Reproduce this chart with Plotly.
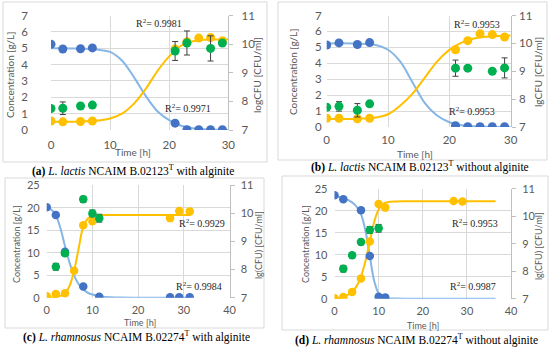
import plotly.graph_objects as go

W, H = 550, 352

# ---------------- DATA ----------------
# Panel (a) L. lactis with alginite
a_t = [0, 2, 5, 7, 21, 23, 25, 27, 29]
a_glc = [5.25, 4.95, 4.97, 5.02, 0.42, 0.02, 0.02, 0.02, 0.02]
a_lac = [0.55, 0.5, 0.52, 0.55, 4.95, 5.4, 5.62, 5.65, 5.45]
a_cfu_t = [0, 2, 5, 7, 21, 23, 27, 29]
a_cfu = [7.75, 7.76, 7.84, 7.87, 9.76, 10.04, 9.85, 10.04]
a_cfu_err = [0, 0.22, 0, 0, 0.33, 0.42, 0.44, 0.04]
a_fit_t = [0, 5, 8, 10, 12, 14, 16, 18, 20, 22, 24, 26, 28, 30]
a_glc_fit = [5.0, 4.98, 4.9, 4.78, 4.25, 3.25, 2.1, 1.15, 0.6, 0.26, 0.1, 0.04, 0.01, 0.0]
a_lac_fit = [0.5, 0.52, 0.58, 0.7, 1.0, 1.6, 2.5, 3.6, 4.5, 5.15, 5.42, 5.52, 5.54, 5.55]

# Panel (b) L. lactis without alginite
b_t = [0, 2, 5, 7, 21, 23, 25, 27, 29]
b_glc = [5.15, 5.28, 5.18, 5.3, 0.08, 0.02, 0.02, 0.02, 0.02]
b_lac = [0.55, 0.55, 0.52, 0.55, 4.85, 5.42, 5.85, 5.8, 5.65]
b_cfu_t = [0, 2, 5, 7, 21, 23, 27, 29]
b_cfu = [7.71, 7.74, 7.6, 7.83, 9.11, 9.11, 9.0, 9.12]
b_cfu_err = [0, 0.17, 0.24, 0, 0.29, 0.03, 0, 0.36]
b_fit_t = [0, 5, 8, 10, 12, 14, 16, 18, 20, 22, 24, 26, 28, 30]
b_glc_fit = [5.25, 5.24, 5.15, 4.85, 4.1, 2.8, 1.5, 0.72, 0.3, 0.11, 0.04, 0.015, 0.005, 0.0]
b_lac_fit = [0.5, 0.52, 0.6, 0.8, 1.35, 2.1, 3.1, 4.1, 4.84, 5.3, 5.56, 5.66, 5.72, 5.74]

# Panel (c) L. rhamnosus with alginite
c_glc_t = [0, 2, 4, 8, 11.5, 27, 29, 31.3]
c_glc = [20.1, 18.4, 10.2, 2.5, 0.2, 0.1, 0.1, 0.1]
c_lac_t = [0, 2, 4, 6, 8, 10, 27, 29, 31.3]
c_lac = [0.3, 0.8, 1.0, 6.0, 16.1, 17.0, 17.7, 19.3, 19.2]
c_cfu_t = [2, 4, 8, 10, 11.5]
c_cfu = [8.1, 8.58, 10.5, 10.0, 9.83]
c_cfu_err = [0.12, 0.08, 0.11, 0.12, 0.14]
c_fit_t = [0, 1, 2, 3, 4, 5, 6, 7, 8, 9, 10, 12, 14, 16, 20, 31.5]
c_glc_fit = [20.0, 19.6, 18.3, 15.5, 11.5, 7.8, 4.9, 3.0, 1.8, 1.1, 0.7, 0.25, 0.08, 0.02, 0.0, 0.0]
c_lac_fit = [0.0, 0.05, 0.15, 0.4, 1.0, 2.6, 6.0, 11.0, 15.8, 17.6, 18.2, 18.38, 18.4, 18.4, 18.4, 18.4]

# Panel (d) L. rhamnosus without alginite
d_glc_t = [0, 2, 6, 8, 10, 11.5]
d_glc = [23.5, 22.6, 20.1, 9.7, 0.45, 0.3]
d_lac_t = [0, 2, 4, 6, 8, 10, 11.5, 27, 29]
d_lac = [0.1, 0.4, 1.5, 4.6, 13.0, 21.5, 20.7, 22.2, 22.1]
d_cfu_t = [2, 4, 6, 8, 10]
d_cfu = [8.09, 8.58, 9.06, 9.5, 9.56]
d_cfu_err = [0.12, 0.1, 0.1, 0.12, 0.14]
d_fit_t = [0, 2, 4, 5, 6, 7, 8, 9, 10, 11, 12, 14, 16, 20, 36.5]
d_glc_fit = [23.3, 22.9, 21.9, 20.9, 19.2, 15.5, 9.7, 4.0, 1.2, 0.35, 0.1, 0.02, 0.0, 0.0, 0.0]
d_lac_fit = [0.0, 0.4, 1.5, 2.8, 5.0, 8.5, 13.0, 17.5, 20.3, 21.5, 21.9, 22.1, 22.15, 22.15, 22.15]

r2_labels = ["R<sup>2</sup>= 0.9981", "R<sup>2</sup>= 0.9971",
             "R<sup>2</sup>= 0.9953", "R<sup>2</sup>= 0.9953",
             "R<sup>2</sup>= 0.9929", "R<sup>2</sup>= 0.9984",
             "R<sup>2</sup>= 0.9953", "R<sup>2</sup>= 0.9987"]
captions = ["<b>(a)</b> <i>L. lactis</i> NCAIM B.02123<sup>T</sup> with alginite",
            "<b>(b)</b> <i>L. lactis</i> NCAIM B.02123<sup>T</sup> without alginite",
            "<b>(c)</b> <i>L. rhamnosus</i> NCAIM B.02274<sup>T</sup> with alginite",
            "<b>(d)</b> <i>L. rhamnosus</i> NCAIM B.02274<sup>T</sup> without alginite"]
left_titles = ["Concentration [g/L]"] * 4
right_titles = ["logCFU [CFU/ml]", "lgCFU [CFU/ml]", "lg(CFU) [CFU/ml]", "lg(CFU) [CFU/ml]"]
x_title = "Time [h]"

# ---------------- STYLE ----------------
BLUE = "#4472C4"
BLUE_LINE = "#86B6E6"
YELLOW = "#FFC000"
GREEN = "#00B050"
GRID = "#D9D9D9"
TXT = "#595959"
SANS = "Lato"
SERIF = "Liberation Serif"


def px(x):
    return x / W


def py(y):
    return 1 - y / H


fig = go.Figure()

panels = [
    dict(data=(a_t, a_glc, a_lac, a_cfu_t, a_cfu, a_cfu_err, a_fit_t, a_glc_fit, a_lac_fit),
         xd=(51, 228.3), yd=(130, 15.5), xr=[0, 30], xt=[0, 10, 20, 30], yr=[0, 7], yt=1,
         ms=9, fs=11.5, tfs=10, lso=22, rso=6, xso=6,
         ltitle=(10, 75), rtitle=(257, 75), xtitle=(133, 152),
         r2=[(159, 23), (188, 108)], cap=(133, 170), box=(3, 2, 267, 162)),
    dict(data=(b_t, b_glc, b_lac, b_cfu_t, b_cfu, b_cfu_err, b_fit_t, b_glc_fit, b_lac_fit),
         xd=(326.7, 510.7), yd=(127, 15.5), xr=[0, 30], xt=[0, 10, 20, 30], yr=[0, 7], yt=1,
         ms=9, fs=11.5, tfs=10, lso=4, rso=1, xso=4,
         ltitle=(293, 72), rtitle=(538, 72), xtitle=(415, 154),
         r2=[(477, 24), (472, 111)], cap=(420, 167), box=(278, 2, 547, 160)),
    dict(data=(c_glc_t, c_glc, c_lac, c_cfu_t, c_cfu, c_cfu_err, c_fit_t, c_glc_fit, c_lac_fit),
         xd=(46.7, 229.5), yd=(297.7, 185.3), xr=[0, 40], xt=[0, 10, 20, 30, 40], yr=[0, 25], yt=5,
         ms=8.5, fs=11, tfs=9, lso=6, rso=4, xso=4,
         ltitle=(16, 244), rtitle=(258, 245), xtitle=(140, 322),
         r2=[(202, 223), (199, 286)], cap=(136, 336), box=(5, 178, 264, 328)),
    dict(data=(d_glc_t, d_glc, d_lac, d_cfu_t, d_cfu, d_cfu_err, d_fit_t, d_glc_fit, d_lac_fit),
         xd=(334.5, 511), yd=(298.7, 188.7), xr=[0, 40], xt=[0, 10, 20, 30, 40], yr=[0, 25], yt=5,
         ms=8.5, fs=11, tfs=9, lso=6, rso=4, xso=4,
         ltitle=(305, 244), rtitle=(538, 246), xtitle=(423, 325),
         r2=[(475, 223), (473, 286)], cap=(416, 339), box=(282, 176, 548, 330)),
]

annotations = []
shapes = []
layout_axes = {}


def ann(x, y, text, font, angle=0):
    return dict(x=px(x), y=py(y), xref="paper", yref="paper", text=text, textangle=angle,
                showarrow=False, xanchor="center", yanchor="middle", font=font)


for i, p in enumerate(panels):
    xn = "x" if i == 0 else f"x{i+1}"
    yl = "y" if i == 0 else f"y{2*i+1}"
    yr_ = f"y{2*i+2}"
    glc_t, glc, lac, cfu_t, cfu, cfu_err, fit_t, glc_fit, lac_fit = p["data"]
    lac_t = a_t if i == 0 else (b_t if i == 1 else (c_lac_t if i == 2 else d_lac_t))

    fig.add_trace(go.Scatter(x=fit_t, y=glc_fit, mode="lines", line=dict(color=BLUE_LINE, width=2, shape="spline"),
                             xaxis=xn, yaxis=yl, showlegend=False, hoverinfo="skip"))
    fig.add_trace(go.Scatter(x=fit_t, y=lac_fit, mode="lines", line=dict(color=YELLOW, width=2, shape="spline"),
                             xaxis=xn, yaxis=yl, showlegend=False, hoverinfo="skip"))
    fig.add_trace(go.Scatter(x=glc_t, y=glc, mode="markers", marker=dict(color=BLUE, size=p["ms"]),
                             xaxis=xn, yaxis=yl, showlegend=False))
    fig.add_trace(go.Scatter(x=lac_t, y=lac, mode="markers", marker=dict(color=YELLOW, size=p["ms"]),
                             xaxis=xn, yaxis=yl, showlegend=False))
    fig.add_trace(go.Scatter(x=cfu_t, y=cfu, mode="markers", marker=dict(color=GREEN, size=p["ms"]),
                             error_y=dict(type="data", array=cfu_err, color="#404040", thickness=1, width=3),
                             xaxis=xn, yaxis=yr_, showlegend=False))

    xdom = [px(p["xd"][0]), px(p["xd"][1])]
    ydom = [py(p["yd"][0]), py(p["yd"][1])]
    tf = dict(family=SANS, size=p["fs"], color=TXT)
    layout_axes["xaxis" if i == 0 else f"xaxis{i+1}"] = dict(
        domain=xdom, anchor=yl, range=p["xr"], tickvals=p["xt"], showgrid=True, gridcolor=GRID,
        gridwidth=1, zeroline=False, showline=False, ticks="", tickfont=tf, ticklabelstandoff=p["xso"],
        automargin=False)
    layout_axes["yaxis" if i == 0 else f"yaxis{2*i+1}"] = dict(
        domain=ydom, anchor=xn, range=p["yr"], dtick=p["yt"], showgrid=True, gridcolor=GRID,
        gridwidth=1, zeroline=False, showline=False, ticks="", tickfont=tf, ticklabelstandoff=p["lso"],
        automargin=False)
    layout_axes[f"yaxis{2*i+2}"] = dict(
        overlaying=yl, side="right", anchor=xn, range=[7, 11], dtick=1, showgrid=False,
        zeroline=False, showline=True, linecolor="#BFBFBF", linewidth=1, ticks="outside",
        ticklen=4, tickcolor="#BFBFBF", tickfont=tf, ticklabelstandoff=p["rso"], automargin=False)

    tfont = dict(family=SANS, size=p["tfs"], color=TXT)
    annotations.append(ann(*p["ltitle"], left_titles[i], tfont, -90))
    annotations.append(ann(*p["rtitle"], right_titles[i], tfont, -90))
    annotations.append(ann(*p["xtitle"], x_title, tfont))
    for k, (rx, ry) in enumerate(p["r2"]):
        annotations.append(ann(rx, ry, r2_labels[2*i+k], dict(family=SERIF, size=10, color="#262626")))
    annotations.append(ann(*p["cap"], captions[i], dict(family=SERIF, size=11.5, color="#000000")))
    x0, y0, x1, y1 = p["box"]
    shapes.append(dict(type="rect", xref="paper", yref="paper", x0=px(x0), x1=px(x1), y0=py(y1), y1=py(y0),
                       line=dict(color=GRID, width=1), fillcolor="rgba(0,0,0,0)", layer="below"))

fig.update_layout(width=W, height=H, margin=dict(l=0, r=0, t=0, b=0, autoexpand=False),
                  paper_bgcolor="white", plot_bgcolor="rgba(0,0,0,0)",
                  annotations=annotations, shapes=shapes, showlegend=False, **layout_axes)

fig.write_html("out.html", config={"displayModeBar": False},
               post_script="document.body.style.margin='0';document.body.style.overflow='hidden';")
